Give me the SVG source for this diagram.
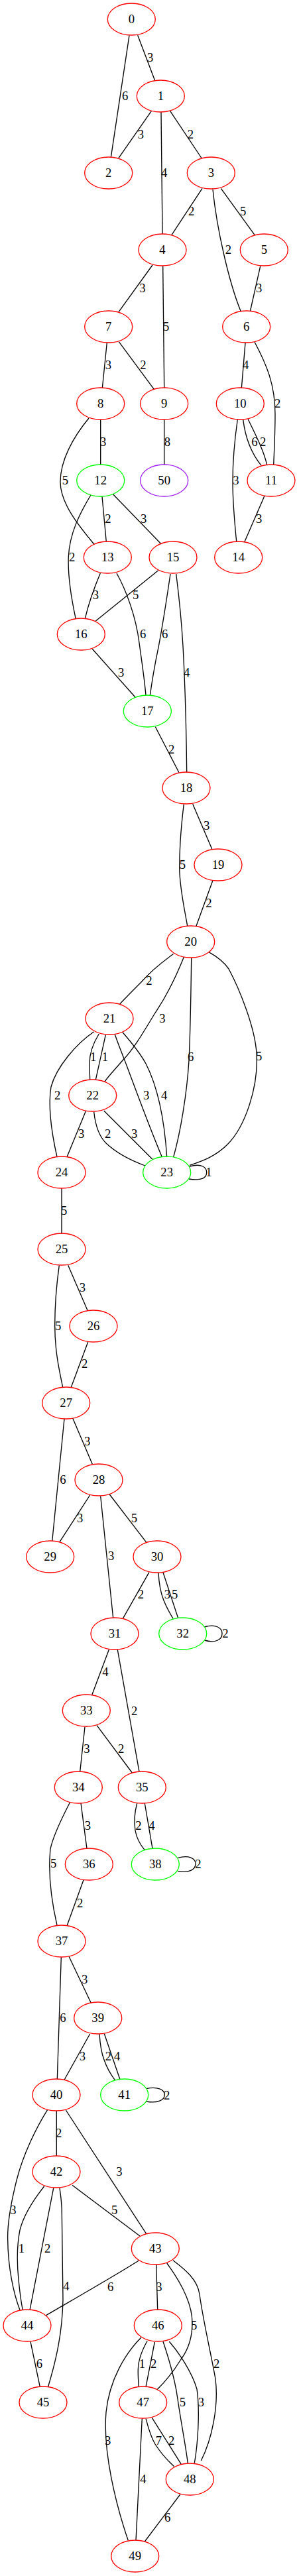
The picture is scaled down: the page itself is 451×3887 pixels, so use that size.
<svg xmlns="http://www.w3.org/2000/svg" width="451" height="3887" viewBox="0 0 451 3887">
<style>
.nd ellipse{fill:none;stroke-width:1.33}
.r ellipse{stroke:#ff0000}
.g ellipse{stroke:#00ff00}
.p ellipse{stroke:#a020f0}
text{font-family:"Liberation Serif","Times New Roman",serif;font-size:18.67px;fill:#000;text-anchor:middle}
#edges path{fill:none;stroke:#000;stroke-width:1.33}
</style>
<rect width="451" height="3887" fill="#fff"/>
<g id="edges">
<path d="M207.7,53.3 L233.7,121.7"/><text x="226.7" y="92.5">3</text>
<path d="M195,53.3 L167.3,237.7"/><text x="188.7" y="150.8">6</text>
<path d="M228.3,167.7 L179,238.3"/><text x="212.3" y="208.8">3</text>
<path d="M243,169.3 L245,353.3"/><text x="247.7" y="266.5">4</text>
<path d="M256.7,167.7 L304.3,239"/><text x="287.3" y="208.8">2</text>
<path d="M305,284.3 L259,354.3"/><text x="288.7" y="324.8">2</text>
<path d="M321,286 C327,345 345,425 363.3,470"/><text x="344.3" y="383.2">2</text>
<path d="M333.3,284.3 L384,354.3"/><text x="366.7" y="324.8">5</text>
<path d="M230,400 L179,470.7"/><text x="215" y="440.8">3</text>
<path d="M245.7,401.7 L247.7,585.7"/><text x="250.7" y="498.8">5</text>
<path d="M392.7,401.7 L377.3,470"/><text x="390.7" y="440.8">3</text>
<path d="M161.3,517.3 L154.3,585.7"/><text x="163.3" y="556.5">3</text>
<path d="M179.3,515.7 L232.3,587.3"/><text x="216" y="556.5">2</text>
<path d="M370,517.3 L364.3,585.7"/><text x="370.7" y="556.5">4</text>
<path d="M384,516 C402,550 415,580 415,625 C415,660 413,690 412.7,702"/><text x="418.7" y="614.8">2</text>
<path d="M151.7,633.3 L151.7,701.7"/><text x="155.7" y="672.5">3</text>
<path d="M134,631 C110,660 91,695 91,727 C91,760 120,795 142.3,821.7"/><text x="98.3" y="730.8">5</text>
<path d="M247.7,633.3 L247.7,701.7"/><text x="252.3" y="672.5">8</text>
<path d="M358.3,633 C353,670 351,700 351,727 C351,760 354,790 356.7,817"/><text x="356" y="730.8">3</text>
<path d="M366.7,633.3 C370,660 380,685 394.3,702.7"/><text x="384" y="672.5">6</text>
<path d="M374,632.3 C385,655 398,680 402.7,701.7"/><text x="396.7" y="672.5">2</text>
<path d="M399,748.3 L369,817.3"/><text x="390.7" y="788.8">3</text>
<path d="M154,749.3 L160.3,817.3"/><text x="163" y="788.8">2</text>
<path d="M170.7,746 L242.3,820"/><text x="216.7" y="788.8">3</text>
<path d="M137,747 C120,775 105,805 103.3,840 C102,870 108,905 114.3,934"/><text x="108.7" y="846.5">2</text>
<path d="M151.3,865 C145,880 135,905 128.3,933.3"/><text x="144.3" y="904.2">3</text>
<path d="M238.7,860.7 L144,937.3"/><text x="204.7" y="904.2">5</text>
<path d="M176,865 C190,890 205,930 210,970 C214,1000 218,1025 220,1049.3"/><text x="215.7" y="962.5">6</text>
<path d="M257,866 C252,900 246,940 239.3,975 C234,1000 229,1030 226.3,1049.3"/><text x="248.7" y="962.5">6</text>
<path d="M265.7,866 C270,900 274,940 276,975 C279,1030 281,1100 281.7,1165.7"/><text x="281.7" y="1020.5">4</text>
<path d="M139.3,979.3 L204,1052"/><text x="182.7" y="1020.5">3</text>
<path d="M234.3,1096.7 L270,1165.7"/><text x="258.7" y="1137.2">2</text>
<path d="M290.7,1213.3 L320,1281.7"/><text x="311.7" y="1252.2">3</text>
<path d="M277.3,1213.3 C274,1240 270.7,1280 270.7,1310 C271,1340 278,1370 282.7,1397.3"/><text x="275.3" y="1310.5">5</text>
<path d="M320.7,1329.3 L296,1397.3"/><text x="315" y="1368.8">2</text>
<path d="M261.7,1439.3 C240,1455 225,1468 213,1482 C200,1495 190,1505 180.7,1515"/><text x="225" y="1485.5">2</text>
<path d="M277.3,1444.3 C265,1475 250,1505 233,1530 C215,1560 200,1585 185,1600 C175,1612 165,1622 157.7,1632.3"/><text x="245" y="1542.5">3</text>
<path d="M288.7,1445.7 C288,1500 287,1560 285,1600 C282,1650 272,1710 261.7,1745.7"/><text x="287.7" y="1600.8">6</text>
<path d="M315,1436.7 C330,1445 338,1452 345,1462 C360,1490 385,1550 387,1590 C390,1640 370,1700 343,1727 C325,1745 305,1752 286,1758.3"/><text x="390.7" y="1599.8">5</text>
<path d="M141.7,1556.7 C115,1575 85,1610 77,1640 C72,1670 78,1710 86,1745.7"/><text x="86.7" y="1658.8">2</text>
<path d="M149.3,1560 C140,1575 135,1590 135,1605 C135,1615 135.5,1622 135.7,1629.3"/><text x="140.7" y="1600.8">1</text>
<path d="M159.3,1561.7 L144.3,1629.3"/><text x="158.3" y="1600.8">1</text>
<path d="M173.3,1561 C180,1580 185,1592 190,1605 C205,1645 225,1700 244.3,1745.7"/><text x="220.7" y="1658.8">3</text>
<path d="M185,1557.7 C200,1575 212,1590 220,1605 C238,1640 248,1690 251.7,1745.7"/><text x="247.7" y="1658.8">4</text>
<path d="M129.3,1676.7 L101,1745.7"/><text x="122.7" y="1716.5">3</text>
<path d="M141.7,1677.7 C144,1700 150,1715 160,1725 C178,1742 200,1752 219,1759"/><text x="162.7" y="1716.5">2</text>
<path d="M156.7,1676 L230,1749.3"/><text x="202.7" y="1716.5">3</text>
<path d="M286,1760 C305,1755 311.7,1762 311.7,1769 C311.7,1777 305,1782 285,1779"/><text x="315" y="1774.8">1</text>
<path d="M93,1793.3 L93,1861.7"/><text x="96.7" y="1832.5">5</text>
<path d="M102.7,1909.3 L132,1977.3"/><text x="124.3" y="1948.8">3</text>
<path d="M89.3,1909.3 C85,1940 82.7,1970 82.7,2000 C82.7,2040 90,2070 94.7,2093.3"/><text x="87.7" y="2006.5">5</text>
<path d="M132.7,2025 L107.3,2093.3"/><text x="127.7" y="2064.2">2</text>
<path d="M97,2140.7 L78.7,2325.7"/><text x="95" y="2238.8">6</text>
<path d="M109.7,2140 L139.3,2209.3"/><text x="131.7" y="2180.5">3</text>
<path d="M135.7,2256 L90,2326.7"/><text x="120.7" y="2296.5">3</text>
<path d="M151.7,2257.7 L170.7,2441.7"/><text x="167.7" y="2354.2">3</text>
<path d="M165.3,2255 L221,2327.7"/><text x="202.3" y="2296.5">5</text>
<path d="M225,2372.3 L185.7,2441.7"/><text x="212.3" y="2412.2">2</text>
<path d="M239,2373.3 C240,2395 243,2405 247,2415 C251,2425 256,2434 261,2442.3"/><text x="252.3" y="2412.2">3</text>
<path d="M246,2372.7 L268.7,2441.7"/><text x="263.7" y="2412.2">5</text>
<path d="M308.3,2455 C325,2450 335,2456 335,2465 C335,2474 325,2480 308.3,2475"/><text x="340" y="2470.8">2</text>
<path d="M164.3,2489.3 L139,2556.7"/><text x="159" y="2529.2">4</text>
<path d="M177.3,2489.3 L210,2673.3"/><text x="202.7" y="2587.5">2</text>
<path d="M128,2605.7 L120.7,2673.3"/><text x="131" y="2644.8">3</text>
<path d="M146,2603.3 L199.3,2675"/><text x="182.7" y="2644.8">2</text>
<path d="M122,2721 L131,2789.3"/><text x="132.3" y="2760.5">3</text>
<path d="M105.3,2720 C95,2740 80,2770 76,2790 C72,2830 78,2870 86,2905"/><text x="80.7" y="2818.2">5</text>
<path d="M206.7,2721 C203,2735 202,2750 204,2762 C206,2774 212,2784 218.3,2791.7"/><text x="209" y="2760.5">2</text>
<path d="M218.3,2721 L230,2789.3"/><text x="229" y="2760.5">4</text>
<path d="M268.3,2803.3 C285,2799 295,2804 295,2812.3 C295,2821 285,2827 268.3,2823.3"/><text x="299" y="2818.8">2</text>
<path d="M126,2836.7 L101.3,2905"/><text x="120.7" y="2877.5">2</text>
<path d="M92.3,2953.3 L86.3,3137.7"/><text x="95" y="3050.8">6</text>
<path d="M104,2952.3 L137.3,3022.3"/><text x="127.7" y="2992.5">3</text>
<path d="M135.7,3069 L97,3138.3"/><text x="124.3" y="3108.8">3</text>
<path d="M150,3069.3 C151,3085 153,3098 157,3108 C161,3120 167,3130 173.3,3138.7"/><text x="163.3" y="3108.8">2</text>
<path d="M157.3,3068.7 L181,3137.7"/><text x="176.7" y="3108.8">4</text>
<path d="M220.7,3151.7 C237,3148 248.3,3153 248.3,3161 C248.3,3169 237,3174 220.7,3171"/><text x="251.7" y="3167.5">2</text>
<path d="M85.3,3185 L85.3,3253.3"/><text x="88.7" y="3224.8">2</text>
<path d="M71.7,3183.3 C55,3210 35,3250 25,3290 C15,3330 11,3360 11.7,3380 C12,3420 20,3460 30,3485.7"/><text x="20" y="3340.8">3</text>
<path d="M99.3,3184 L220.7,3370.7"/><text x="180" y="3283.2">3</text>
<path d="M66.7,3299 C50,3320 35,3345 30,3365 C25,3390 26,3420 28,3440 C30,3460 32,3475 34.3,3485.7"/><text x="32.3" y="3398.8">1</text>
<path d="M80.7,3301.7 L45,3485.7"/><text x="71.7" y="3398.8">2</text>
<path d="M90,3301.7 C92,3315 93.3,3325 93.3,3340 C94,3400 95,3440 95,3470 C94,3520 85,3560 72.7,3601"/><text x="100" y="3455.8">4</text>
<path d="M109,3297.3 L211,3374"/><text x="172.7" y="3340.8">5</text>
<path d="M209.3,3411 C180,3430 110,3470 69,3494"/><text x="166.7" y="3456.5">6</text>
<path d="M235.7,3417.3 L237.7,3485.7"/><text x="240" y="3456.5">3</text>
<path d="M251.7,3415 C270,3440 290,3475 290,3505 C290,3530 282,3548 273,3560 C262,3578 248,3595 236.7,3606"/><text x="292.7" y="3514.8">5</text>
<path d="M261,3410.7 C280,3425 298,3440 301,3462 C306,3500 320,3560 325,3590 C330,3630 320,3680 303.3,3713"/><text x="326.7" y="3572.5">2</text>
<path d="M46,3533.3 L60.3,3601.7"/><text x="59.3" y="3572.5">6</text>
<path d="M222.3,3532 C215,3545 208.5,3560 208.3,3575 C208,3585 208.7,3593 209.3,3601.7"/><text x="214.3" y="3572.5">1</text>
<path d="M233.3,3534 L220,3601.7"/><text x="231.7" y="3572.5">2</text>
<path d="M213,3527 C190,3550 165,3590 160,3640 C155,3700 175,3780 193.3,3833.3"/><text x="162.7" y="3688.8">3</text>
<path d="M246,3533.3 C255,3560 264,3590 268,3620 C273,3655 280,3690 283.3,3716.7"/><text x="275.3" y="3630.8">5</text>
<path d="M255.3,3533.3 C270,3550 290,3580 297,3605 C302,3640 298,3690 293.3,3716.7"/><text x="303.3" y="3630.8">3</text>
<path d="M220,3649.3 C224,3665 228,3678 234,3688 C243,3702 253,3713 262.7,3721.7"/><text x="239.3" y="3688.8">7</text>
<path d="M229.3,3648.3 L273.3,3718.3"/><text x="258.7" y="3688.8">2</text>
<path d="M214.3,3649.3 L205,3833.3"/><text x="216" y="3747.2">4</text>
<path d="M271.7,3764 L218.3,3835"/><text x="252.7" y="3804.8">6</text>
</g>
<g id="n0" class="nd r"><ellipse cx="198.3" cy="29" rx="36" ry="24"/><text x="198.3" y="35">0</text></g>
<g id="n1" class="nd r"><ellipse cx="242.3" cy="145" rx="36" ry="24"/><text x="242.3" y="151">1</text></g>
<g id="n2" class="nd r"><ellipse cx="163.7" cy="261" rx="36" ry="24"/><text x="163.7" y="267">2</text></g>
<g id="n3" class="nd r"><ellipse cx="318.3" cy="261" rx="36" ry="24"/><text x="318.3" y="267">3</text></g>
<g id="n4" class="nd r"><ellipse cx="245" cy="377" rx="36" ry="24"/><text x="245" y="383">4</text></g>
<g id="n5" class="nd r"><ellipse cx="398.3" cy="377" rx="36" ry="24"/><text x="398.3" y="383">5</text></g>
<g id="n6" class="nd r"><ellipse cx="371.7" cy="493" rx="36" ry="24"/><text x="371.7" y="499">6</text></g>
<g id="n7" class="nd r"><ellipse cx="163.7" cy="493" rx="36" ry="24"/><text x="163.7" y="499">7</text></g>
<g id="n8" class="nd r"><ellipse cx="151.7" cy="609" rx="36" ry="24"/><text x="151.7" y="615">8</text></g>
<g id="n9" class="nd r"><ellipse cx="247.7" cy="609" rx="36" ry="24"/><text x="247.7" y="615">9</text></g>
<g id="n10" class="nd r"><ellipse cx="362.3" cy="609" rx="36" ry="24"/><text x="362.3" y="615">10</text></g>
<g id="n11" class="nd r"><ellipse cx="409" cy="725" rx="36" ry="24"/><text x="409" y="731">11</text></g>
<g id="n12" class="nd g"><ellipse cx="151.7" cy="725" rx="36" ry="24"/><text x="151.7" y="731">12</text></g>
<g id="n50" class="nd p"><ellipse cx="247.7" cy="725" rx="36" ry="24"/><text x="247.7" y="731">50</text></g>
<g id="n13" class="nd r"><ellipse cx="162.3" cy="841" rx="36" ry="24"/><text x="162.3" y="847">13</text></g>
<g id="n15" class="nd r"><ellipse cx="261" cy="841" rx="36" ry="24"/><text x="261" y="847">15</text></g>
<g id="n14" class="nd r"><ellipse cx="359.7" cy="841" rx="36" ry="24"/><text x="359.7" y="847">14</text></g>
<g id="n16" class="nd r"><ellipse cx="122.3" cy="957" rx="36" ry="24"/><text x="122.3" y="963">16</text></g>
<g id="n17" class="nd g"><ellipse cx="222.3" cy="1073" rx="36" ry="24"/><text x="222.3" y="1079">17</text></g>
<g id="n18" class="nd r"><ellipse cx="281" cy="1189" rx="36" ry="24"/><text x="281" y="1195">18</text></g>
<g id="n19" class="nd r"><ellipse cx="329" cy="1305" rx="36" ry="24"/><text x="329" y="1311">19</text></g>
<g id="n20" class="nd r"><ellipse cx="287.7" cy="1421" rx="36" ry="24"/><text x="287.7" y="1427">20</text></g>
<g id="n21" class="nd r"><ellipse cx="165" cy="1537" rx="36" ry="24"/><text x="165" y="1543">21</text></g>
<g id="n22" class="nd r"><ellipse cx="139.7" cy="1653" rx="36" ry="24"/><text x="139.7" y="1659">22</text></g>
<g id="n23" class="nd g"><ellipse cx="251.7" cy="1769" rx="36" ry="24"/><text x="251.7" y="1775">23</text></g>
<g id="n24" class="nd r"><ellipse cx="93" cy="1769" rx="36" ry="24"/><text x="93" y="1775">24</text></g>
<g id="n25" class="nd r"><ellipse cx="93" cy="1885" rx="36" ry="24"/><text x="93" y="1891">25</text></g>
<g id="n26" class="nd r"><ellipse cx="141" cy="2001" rx="36" ry="24"/><text x="141" y="2007">26</text></g>
<g id="n27" class="nd r"><ellipse cx="99.7" cy="2117" rx="36" ry="24"/><text x="99.7" y="2123">27</text></g>
<g id="n28" class="nd r"><ellipse cx="149" cy="2233" rx="36" ry="24"/><text x="149" y="2239">28</text></g>
<g id="n29" class="nd r"><ellipse cx="75.7" cy="2349" rx="36" ry="24"/><text x="75.7" y="2355">29</text></g>
<g id="n30" class="nd r"><ellipse cx="237" cy="2349" rx="36" ry="24"/><text x="237" y="2355">30</text></g>
<g id="n31" class="nd r"><ellipse cx="173" cy="2465" rx="36" ry="24"/><text x="173" y="2471">31</text></g>
<g id="n32" class="nd g"><ellipse cx="275.7" cy="2465" rx="36" ry="24"/><text x="275.7" y="2471">32</text></g>
<g id="n33" class="nd r"><ellipse cx="130.3" cy="2581" rx="36" ry="24"/><text x="130.3" y="2587">33</text></g>
<g id="n34" class="nd r"><ellipse cx="118.3" cy="2697" rx="36" ry="24"/><text x="118.3" y="2703">34</text></g>
<g id="n35" class="nd r"><ellipse cx="214.3" cy="2697" rx="36" ry="24"/><text x="214.3" y="2703">35</text></g>
<g id="n36" class="nd r"><ellipse cx="134.3" cy="2813" rx="36" ry="24"/><text x="134.3" y="2819">36</text></g>
<g id="n38" class="nd g"><ellipse cx="234.3" cy="2813" rx="36" ry="24"/><text x="234.3" y="2819">38</text></g>
<g id="n37" class="nd r"><ellipse cx="93" cy="2929" rx="36" ry="24"/><text x="93" y="2935">37</text></g>
<g id="n39" class="nd r"><ellipse cx="147.7" cy="3045" rx="36" ry="24"/><text x="147.7" y="3051">39</text></g>
<g id="n40" class="nd r"><ellipse cx="85" cy="3161" rx="36" ry="24"/><text x="85" y="3167">40</text></g>
<g id="n41" class="nd g"><ellipse cx="187.7" cy="3161" rx="36" ry="24"/><text x="187.7" y="3167">41</text></g>
<g id="n42" class="nd r"><ellipse cx="85" cy="3277" rx="36" ry="24"/><text x="85" y="3283">42</text></g>
<g id="n43" class="nd r"><ellipse cx="234.3" cy="3393" rx="36" ry="24"/><text x="234.3" y="3399">43</text></g>
<g id="n44" class="nd r"><ellipse cx="41" cy="3509" rx="36" ry="24"/><text x="41" y="3515">44</text></g>
<g id="n46" class="nd r"><ellipse cx="238.3" cy="3509" rx="36" ry="24"/><text x="238.3" y="3515">46</text></g>
<g id="n45" class="nd r"><ellipse cx="65" cy="3625" rx="36" ry="24"/><text x="65" y="3631">45</text></g>
<g id="n47" class="nd r"><ellipse cx="215.7" cy="3625" rx="36" ry="24"/><text x="215.7" y="3631">47</text></g>
<g id="n48" class="nd r"><ellipse cx="286.3" cy="3741" rx="36" ry="24"/><text x="286.3" y="3747">48</text></g>
<g id="n49" class="nd r"><ellipse cx="203.7" cy="3857" rx="36" ry="24"/><text x="203.7" y="3863">49</text></g>
</svg>
